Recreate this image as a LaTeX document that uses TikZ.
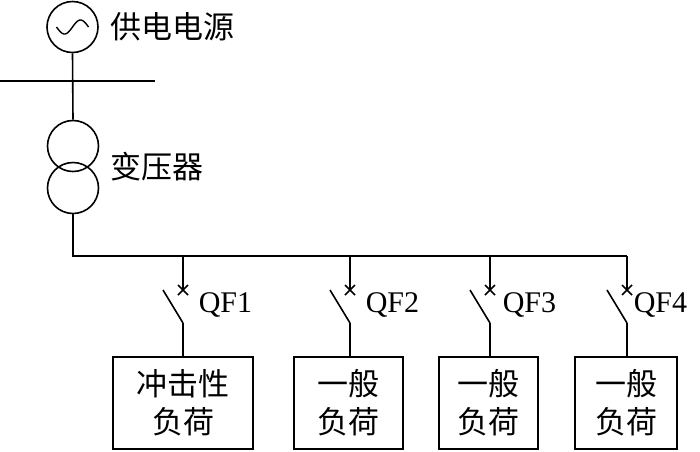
\documentclass[tikz,border=0pt]{standalone}
\usepackage{fontspec}
\setmainfont{Liberation Serif}
\newfontfamily\cjk{Noto Sans CJK SC}
\begin{document}
\begin{tikzpicture}[x=1pt,y=-1pt, line width=1.6pt,
  every node/.style={inner sep=0pt},
  ring/.style={circle, draw, minimum size=51pt},
  loadbox/.style={draw, minimum height=92pt, align=center, font=\cjk\fontsize{31}{38}\selectfont},
  lbl/.style={anchor=west, font=\cjk\fontsize{31}{38}\selectfont},
  qf/.style={anchor=base west, font=\fontsize{30}{36}\selectfont}]
\useasboundingbox (0,0) rectangle (700,451);
\fill[white] (0,0) rectangle (700,451);
% source
\node[ring] (gen) at (72.5,27) {};
\draw[line width=1.4pt, shift={(gen.center)}] plot[domain=-16:16, samples=40, smooth] (\x, {-7*sin(\x*11.25)});
\node[lbl] (genl) at (110,27) {供电电源};
% busbar
\coordinate (hl) at (0,81);
\coordinate (hr) at (155,81);
\draw (hl) -- (hr);
% transformer
\node[ring] (t1) at (73,146) {};
\node[ring] (t2) at (73,188) {};
\node[lbl] (tl) at (110,167) {变压器};
\draw (gen.south) -- (t1.north);
% LV bus
\coordinate (b1) at (183,256);
\coordinate (b2) at (350,256);
\coordinate (b3) at (490,256);
\coordinate (b4) at (627,256);
\draw (t2.south) |- (b4);
% loads
\node[loadbox, minimum width=140pt] (box1) at (183,403) {冲击性\\负荷};
\node[loadbox, minimum width=109pt] (box2) at (348.5,403) {一般\\负荷};
\node[loadbox, minimum width=99pt] (box3) at (488.5,403) {一般\\负荷};
\node[loadbox, minimum width=102pt] (box4) at (626,403) {一般\\负荷};
% switches
\foreach \i/\x/\lx in {1/183/198, 2/350/365, 3/490/502, 4/627/633}{
  \coordinate (c\i) at (\x,290);
  \coordinate (s\i) at (\x,323);
  \draw (b\i) -- (c\i);
  \draw ([shift={(-5,-5)}]c\i) -- ([shift={(5,5)}]c\i);
  \draw ([shift={(-5,5)}]c\i) -- ([shift={(5,-5)}]c\i);
  \draw ([xshift=-20pt]c\i) -- (s\i);
  \draw (s\i) -- ({\x},{357});
  \node[qf] (q\i) at (\lx,312) {QF\i};
}
\end{tikzpicture}
\end{document}
